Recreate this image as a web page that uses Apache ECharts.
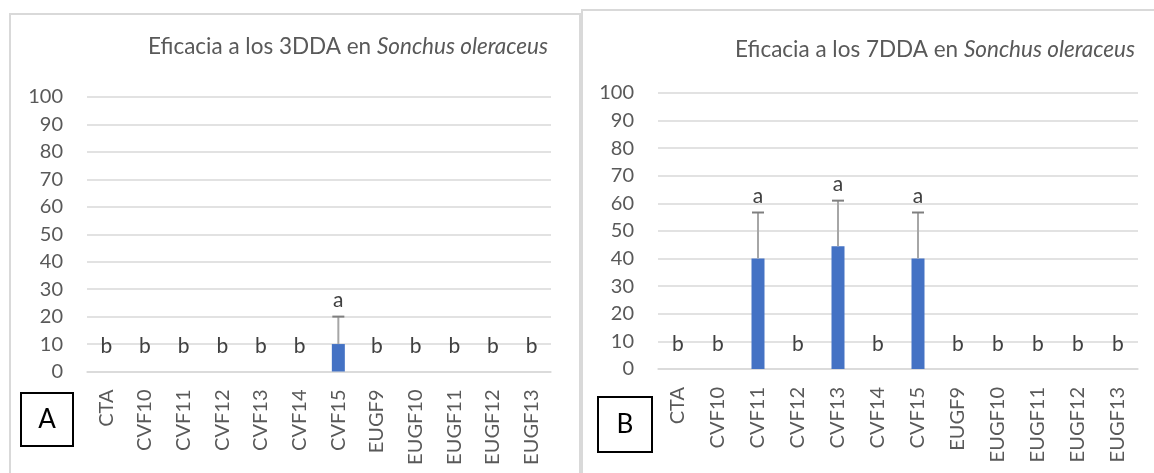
<!DOCTYPE html>
<html>
<head>
<meta charset="utf-8">
<script src="https://cdn.jsdelivr.net/npm/echarts@6/dist/echarts.min.js"></script>
<style>
  html, body { margin: 0; padding: 0; background: #ffffff; }
  #chart { width: 1154px; height: 473px; }
</style>
</head>
<body>
<div id="chart"></div>
<script>
// Treatments (shared by both panels)
var categories = ['CTA', 'CVF10', 'CVF11', 'CVF12', 'CVF13', 'CVF14', 'CVF15',
                  'EUGF9', 'EUGF10', 'EUGF11', 'EUGF12', 'EUGF13'];

// Panel A: efficacy 3 days after application
var meanA    = [0, 0, 0, 0, 0, 0, 10, 0, 0, 0, 0, 0];
var errA     = [0, 0, 0, 0, 0, 0, 10, 0, 0, 0, 0, 0];
var lettersA = ['b', 'b', 'b', 'b', 'b', 'b', 'a', 'b', 'b', 'b', 'b', 'b'];

// Panel B: efficacy 7 days after application
var meanB    = [0, 0, 40, 0, 44.5, 0, 40, 0, 0, 0, 0, 0];
var errB     = [0, 0, 16.7, 0, 16.5, 0, 16.7, 0, 0, 0, 0, 0];
var lettersB = ['b', 'b', 'a', 'b', 'a', 'b', 'a', 'b', 'b', 'b', 'b', 'b'];

// Y axis ticks
var yTicks = [0, 10, 20, 30, 40, 50, 60, 70, 80, 90, 100];

var FONT = 'Lato, "Open Sans", sans-serif';
var TEXT = '#595959';
var GRID_LINE = '#d9d9d9';
var BAR = '#4472c4';

function errorRows(mean, err) {
  var rows = [];
  mean.forEach(function (m, i) { if (err[i] > 0) rows.push([i, m, err[i]]); });
  return rows;
}
function letterRows(mean, err, letters) {
  return letters.map(function (t, i) { return [i, mean[i], err[i], t]; });
}

function renderError(params, api) {
  var p0 = api.coord([api.value(0), api.value(1)]);
  var p1 = api.coord([api.value(0), api.value(1) + api.value(2)]);
  return {
    type: 'group',
    children: [
      { type: 'line', shape: { x1: p0[0], y1: p0[1], x2: p1[0], y2: p1[1] },
        style: { stroke: '#a6a6a6', lineWidth: 2 } },
      { type: 'line', shape: { x1: p1[0] - 6, y1: p1[1], x2: p1[0] + 6, y2: p1[1] },
        style: { stroke: '#7f7f7f', lineWidth: 2 } }
    ]
  };
}

function renderLetter(params, api) {
  var top = api.value(1) + api.value(2);
  var p = api.coord([api.value(0), top]);
  var y = top > 0 ? p[1] - 16 : p[1] - 25;
  return {
    type: 'text',
    style: {
      text: api.value(3), x: p[0], y: y,
      textAlign: 'center', textVerticalAlign: 'middle',
      font: '21px ' + FONT, fill: '#404040'
    }
  };
}

function yAxis(gridIndex) {
  return {
    type: 'value', gridIndex: gridIndex, min: 0, max: 100, interval: 10,
    axisLine: { show: false }, axisTick: { show: false },
    axisLabel: { color: TEXT, fontSize: 20, fontFamily: FONT, margin: 24,
                 formatter: function (v) { return yTicks.indexOf(v) >= 0 ? String(v) : ''; } },
    splitLine: { lineStyle: { color: GRID_LINE, width: 1.5 } }
  };
}
function xAxis(gridIndex) {
  return {
    type: 'category', gridIndex: gridIndex, data: categories,
    axisLine: { lineStyle: { color: GRID_LINE, width: 1.5 } },
    axisTick: { show: false },
    axisLabel: { rotate: 90, color: TEXT, fontSize: 20, fontFamily: FONT, margin: 18, interval: 0 }
  };
}

function titleRich() {
  return { rich: {
    n: { fontSize: 22.5, fontFamily: FONT, color: TEXT, fontWeight: 'normal' },
    i: { fontSize: 22.5, fontFamily: FONT, color: TEXT, fontWeight: 'normal', fontStyle: 'italic' } } };
}

var chart = echarts.init(document.getElementById('chart'), null, { renderer: 'canvas' });
chart.setOption({
  animation: false,
  backgroundColor: '#ffffff',
  title: [
    { text: '{n|Eficacia a los 3DDA en }{i|Sonchus oleraceus}', right: 601, top: 30,
      textStyle: titleRich() },
    { text: '{n|Eficacia a los 7DDA en }{i|Sonchus oleraceus}', right: 14, top: 33,
      textStyle: titleRich() }
  ],
  grid: [
    { left: 87, top: 97, width: 464, height: 274.5 },
    { left: 658, top: 93, width: 480, height: 276 }
  ],
  xAxis: [xAxis(0), xAxis(1)],
  yAxis: [yAxis(0), yAxis(1)],
  series: [
    { type: 'bar', xAxisIndex: 0, yAxisIndex: 0, data: meanA, barWidth: 13,
      itemStyle: { color: BAR } },
    { type: 'custom', xAxisIndex: 0, yAxisIndex: 0, data: errorRows(meanA, errA),
      renderItem: renderError, z: 3 },
    { type: 'custom', xAxisIndex: 0, yAxisIndex: 0, data: letterRows(meanA, errA, lettersA),
      renderItem: renderLetter, z: 4 },
    { type: 'bar', xAxisIndex: 1, yAxisIndex: 1, data: meanB, barWidth: 13,
      itemStyle: { color: BAR } },
    { type: 'custom', xAxisIndex: 1, yAxisIndex: 1, data: errorRows(meanB, errB),
      renderItem: renderError, z: 3 },
    { type: 'custom', xAxisIndex: 1, yAxisIndex: 1, data: letterRows(meanB, errB, lettersB),
      renderItem: renderLetter, z: 4 }
  ],
  graphic: [
    // panel frames
    { type: 'rect', shape: { x: 10, y: 14, width: 570, height: 480 },
      style: { fill: null, stroke: '#d9d9d9', lineWidth: 2 }, silent: true },
    { type: 'rect', shape: { x: 582, y: 10, width: 600, height: 480 },
      style: { fill: null, stroke: '#d9d9d9', lineWidth: 2 }, silent: true },
    // panel tags
    { type: 'rect', shape: { x: 21, y: 393, width: 52, height: 53 },
      style: { fill: '#ffffff', stroke: '#000000', lineWidth: 2 } },
    { type: 'text', x: 47, y: 420,
      style: { text: 'A', font: '26px ' + FONT, fill: '#000000', textAlign: 'center', textVerticalAlign: 'middle' } },
    { type: 'rect', shape: { x: 598, y: 397, width: 54, height: 55 },
      style: { fill: '#ffffff', stroke: '#000000', lineWidth: 2 } },
    { type: 'text', x: 625, y: 425,
      style: { text: 'B', font: '26px ' + FONT, fill: '#000000', textAlign: 'center', textVerticalAlign: 'middle' } }
  ]
});
</script>
</body>
</html>
